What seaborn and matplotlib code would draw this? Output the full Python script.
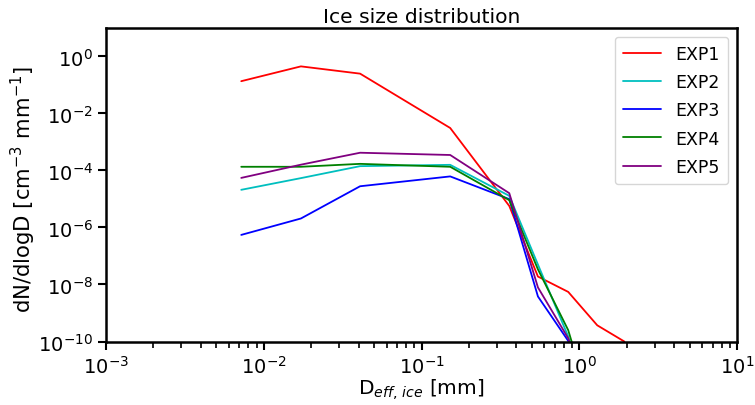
import numpy as np
import pandas as pd
import matplotlib
matplotlib.use('Agg')
import matplotlib.pyplot as plt
import seaborn as sns

# Set style for the plot
sns.set_style('ticks')
plt.rcParams['font.family'] = ['DejaVu Sans']
plt.rcParams['text.color'] = 'black'
plt.rcParams['axes.labelcolor'] = 'black'
plt.rcParams['xtick.color'] = 'black'
plt.rcParams['ytick.color'] = 'black'

# Diameter bins [mm]
diameter = [0.0072, 0.0172, 0.0408, 0.152, 0.360, 0.547, 0.851, 1.30, 1.93]

# dN/dlogD per experiment [cm^-3 mm^-1]
exp1 = [0.136, 0.45, 0.25, 3.1e-3, 5.7e-6, 1.9e-8, 5.5e-9, 3.7e-10, 1.0e-10]
exp2 = [2.1e-5, 5.4e-5, 1.42e-4, 1.58e-4, 1.29e-5, 5.0e-8, 1.5e-10, 1e-13, 1e-14]
exp3 = [5.5e-7, 2.07e-6, 2.8e-5, 6.2e-5, 9.9e-6, 3.8e-9, 1.05e-10, 1e-14, 1e-15]
exp4 = [1.35e-4, 1.35e-4, 1.71e-4, 1.35e-4, 9.1e-6, 3.4e-8, 2.5e-10, 1e-13, 1e-14]
exp5 = [5.5e-5, 1.6e-4, 4.2e-4, 3.5e-4, 1.6e-5, 7.9e-9, 1.3e-10, 1e-13, 1e-14]

labels = ['EXP1', 'EXP2', 'EXP3', 'EXP4', 'EXP5']
colors = ['red', 'c', 'blue', 'green', 'purple']

frames = []
for lab, vals in zip(labels, [exp1, exp2, exp3, exp4, exp5]):
    frames.append(pd.DataFrame({'D': diameter, 'N': vals, 'exp': lab}))
df = pd.concat(frames, ignore_index=True)

fig = plt.figure(figsize=(7.55, 4.06), dpi=100)
ax = fig.add_axes([0.1404, 0.1564, 0.8358, 0.7722])

sns.lineplot(data=df, x='D', y='N', hue='exp', palette=colors, sort=False,
             estimator=None, linewidth=1.3, ax=ax)

ax.set_xscale('log')
ax.set_yscale('log')
ax.set_xlim(1e-3, 1e1)
ax.set_ylim(1e-10, 1e1)
ax.set_yticks([1e0, 1e-2, 1e-4, 1e-6, 1e-8, 1e-10])
ax.yaxis.set_minor_locator(matplotlib.ticker.NullLocator())

ax.set_title('Ice size distribution', fontsize=14.6, pad=4)
ax.set_xlabel(r'D$_{eff,\,ice}$ [mm]', fontsize=14.5, labelpad=0)
ax.set_ylabel(r'dN/dlogD [cm$^{-3}$ mm$^{-1}$]', fontsize=15.2)
ax.yaxis.set_label_coords(-0.108, 0.487)
ax.tick_params(axis='both', which='major', labelsize=14, length=6, width=1.5,
               direction='out')
ax.tick_params(axis='x', which='minor', length=4, width=1.2)
for sp in ax.spines.values():
    sp.set_linewidth(1.8)
    sp.set_color('black')

leg = ax.legend(loc='upper right', fontsize=12.5, handlelength=2.2,
                labelspacing=0.58, borderpad=0.5)
leg.set_title(None)

fig.savefig('out.png', dpi=100)
